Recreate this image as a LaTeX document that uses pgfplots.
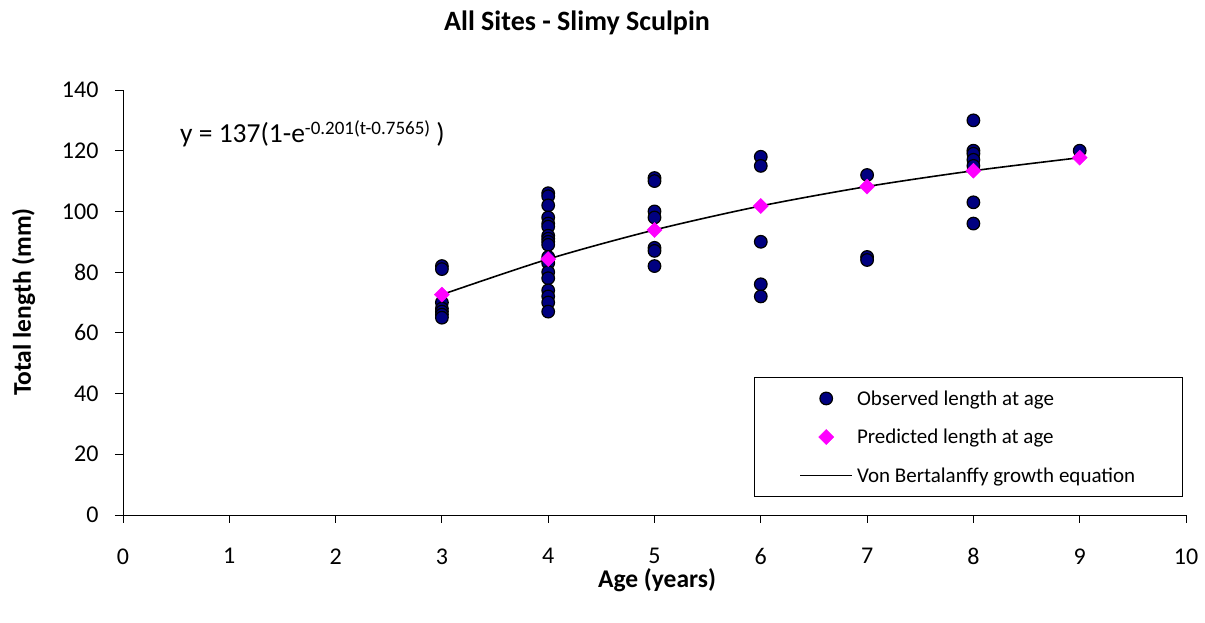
\documentclass[border=0pt]{standalone}
\usepackage{pgfplots}
\pgfplotsset{compat=1.18}
\usepackage{fontspec}
\setmainfont{Carlito}
\definecolor{obsblue}{RGB}{0,0,128}
\definecolor{predmag}{RGB}{255,0,255}
\pgfplotstableread{
age len
3 82
3 81
3 70
3 68
3 67
3 66
3 65
4 106
4 105
4 102
4 98
4 96
4 95
4 92
4 91
4 90
4 89
4 85
4 83
4 80
4 78
4 74
4 72
4 70
4 67
5 111
5 110
5 100
5 98
5 88
5 87
5 82
6 118
6 115
6 90
6 76
6 72
7 112
7 85
7 84
8 130
8 120
8 119
8 117
8 115
8 103
8 96
9 120
}\observed
\pgfplotstableread{
age len
3 72.6
4 84.3
5 93.9
6 101.8
7 108.2
8 113.4
9 117.7
}\predicted
\begin{document}
\begin{tikzpicture}
\useasboundingbox (0,0) rectangle (1205pt,623pt);
\begin{axis}[
  at={(123pt,108pt)}, anchor=south west,
  scale only axis, width=1063pt, height=425pt,
  xmin=0, xmax=10, ymin=0, ymax=140,
  xtick={0,1,...,10}, ytick={0,20,...,140},
  axis x line*=bottom, axis y line*=left,
  tick align=outside, major tick length=8pt,
  tick style={black, line width=0.9pt},
  axis line style={black, line width=0.9pt},
  tick label style={font=\fontsize{24}{28}\selectfont},
  xticklabel style={yshift=-22pt},
  yticklabel style={xshift=-13pt},
  /pgf/number format/assume math mode=true,
  clip=false,
  legend style={at={(0.997,0.325)}, anchor=north east, draw=black, line width=1.1pt,
    font=\fontsize{21}{24}\selectfont, inner xsep=45pt, inner ysep=11pt,
    row sep=18.5pt, column sep=2pt, legend cell align=left},
  legend image code/.code={\draw[mark repeat=2,mark phase=2,#1] plot coordinates {(0pt,0pt) (26pt,0pt) (52pt,0pt)};},
]
\addplot[only marks, mark=*, mark size=6.3pt, mark options={fill=obsblue, draw=black, line width=1.2pt}] table[x=age,y=len] {\observed};
\addlegendentry{Observed length at age}
\addplot[only marks, mark=square*, mark size=5.3pt, mark options={rotate=45, fill=predmag, draw=predmag, line width=0.5pt}] table[x=age,y=len] {\predicted};
\addlegendentry{Predicted length at age}
\addplot[black, line width=1.6pt, smooth, no marks, legend image post style={line width=1.6pt}] table[x=age,y=len] {\predicted};
\addlegendentry{Von Bertalanffy growth equation}
\end{axis}
\node[anchor=base west, font=\fontsize{27.5}{30}\selectfont, inner sep=0pt] at (180pt,480pt) {y = 137(1-e\raisebox{8pt}{\fontsize{19}{20}\selectfont -0.201(t-0.7565)}\ )};
\node[anchor=base, font=\fontsize{28}{32}\selectfont\bfseries, inner sep=0pt] at (577pt,592pt) {All Sites - Slimy Sculpin};
\node[font=\fontsize{25.5}{28}\selectfont\bfseries] at (657pt,43pt) {Age (years)};
\node[anchor=base, font=\fontsize{25.5}{28}\selectfont\bfseries, rotate=90, inner sep=0pt] at (31pt,321pt) {Total length (mm)};
\end{tikzpicture}
\end{document}
